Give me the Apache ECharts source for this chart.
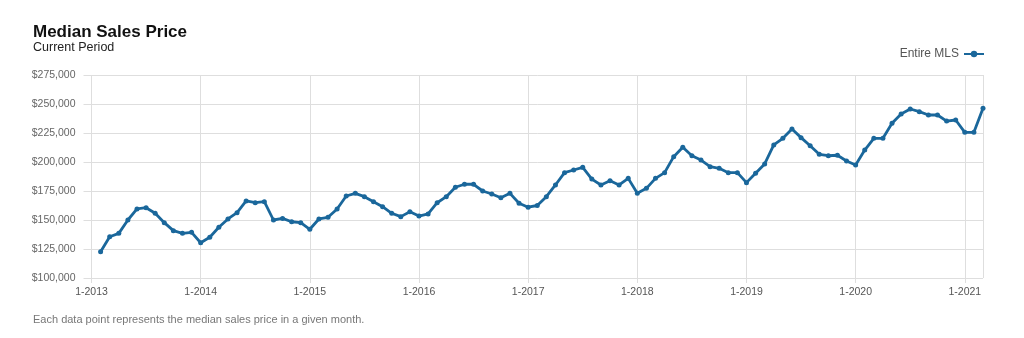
<!DOCTYPE html>
<html>
<head>
<meta charset="utf-8">
<script src="https://cdn.jsdelivr.net/npm/echarts@6/dist/echarts.min.js"></script>
<style>
html,body{margin:0;padding:0;background:#fff;}
#c{width:1024px;height:338px;}
</style>
</head>
<body>
<div id="c"></div>
<script>
// Data: monthly median sales price, Feb 2013 - Mar 2021 (Jan 2013 has no point)
const startYear = 2013;
const endYear = 2021;
const lastMonth = 3;
const seriesName = 'Entire MLS';
const values = [
  null, 122700, 135600, 138500, 150000, 159500, 160600, 155800, 147700, 140800, 138500, 139400,
  130400, 135100, 143700, 150900, 156300, 166400, 164900, 165800, 150000, 151400, 148500, 147700,
  142000, 150900, 152300, 159500, 170700, 173000, 170100, 165800, 161500, 155800, 152900, 157200,
  153400, 155200, 164900, 170100, 178200, 180800, 180800, 175000, 172400, 169200, 173000, 164400,
  161000, 162500, 170100, 180200, 190800, 193100, 195400, 185300, 180200, 183900, 180200, 185900,
  173000, 177300, 185900, 190800, 204600, 212700, 205400, 201700, 196000, 194600, 190800, 190800,
  182200, 190300, 198300, 214700, 220400, 228400, 221000, 214000, 206600, 205400, 205800, 200900,
  197400, 210300, 220400, 220400, 233400, 241400, 245700, 243400, 240500, 240500, 235300, 236200,
  225600, 225600, 246300
];
const yMin = 100000, yMax = 275000, yStep = 25000;

const categories = [];
for (let y = startYear; y <= endYear; y++) {
  for (let m = 1; m <= 12; m++) {
    if (y === endYear && m > lastMonth) break;
    categories.push(m + '-' + y);
  }
}
const lastIdx = categories.length - 1;
const FONT = '"Liberation Sans Narrow", "Arial Narrow", "Liberation Sans", Arial, sans-serif';
const color = '#1a679b';
const gridColor = '#dedede';

const chart = echarts.init(document.getElementById('c'), null, {renderer: 'canvas'});
chart.setOption({
  animation: false,
  backgroundColor: '#ffffff',
  textStyle: {fontFamily: FONT},
  title: [
    {text: 'Median Sales Price', left: 28, top: 19, padding: 5, textStyle: {fontFamily: FONT, fontSize: 17, fontWeight: 'bold', color: '#111'}},
    {text: 'Current Period', left: 28, top: 36, padding: 5, textStyle: {fontFamily: FONT, fontSize: 12.5, fontWeight: 'normal', color: '#222'}},
    {text: 'Each data point represents the median sales price in a given month.', left: 28, top: 309, padding: 5, textStyle: {fontFamily: FONT, fontSize: 11, fontWeight: 'normal', color: '#777'}}
  ],
  legend: {
    right: 34, top: 43, align: 'right',
    itemWidth: 20, itemHeight: 8, itemGap: 4,
    textStyle: {fontFamily: FONT, fontSize: 12, color: '#555', padding: [0, 0, 0, 0]},
    data: [{name: seriesName}]
  },
  grid: {left: 91.5, right: 41, top: 75, bottom: 60, containLabel: false},
  xAxis: {
    type: 'category', data: categories, boundaryGap: false,
    axisLine: {show: false},
    axisTick: {show: true, length: 5, lineStyle: {color: gridColor}, interval: (i) => i % 12 === 0},
    axisLabel: {interval: (i) => i % 12 === 0, color: '#555', fontFamily: FONT, fontSize: 10.5, margin: 9},
    splitLine: {show: true, interval: (i) => i % 12 === 0 || i === lastIdx, lineStyle: {color: gridColor, width: 1}}
  },
  yAxis: {
    type: 'value', min: yMin, max: yMax, interval: yStep,
    axisLine: {show: false},
    axisTick: {show: true, length: 8, lineStyle: {color: gridColor}},
    axisLabel: {color: '#666', fontFamily: FONT, fontSize: 10.5, margin: 16,
      formatter: (v) => '$' + v.toLocaleString('en-US')},
    splitLine: {show: true, lineStyle: {color: gridColor, width: 1}}
  },
  series: [{
    name: seriesName, type: 'line', data: values,
    symbol: 'circle', symbolSize: 5, showSymbol: true,
    lineStyle: {color: color, width: 2.8},
    itemStyle: {color: color},
    connectNulls: false
  }]
});
</script>
</body>
</html>
